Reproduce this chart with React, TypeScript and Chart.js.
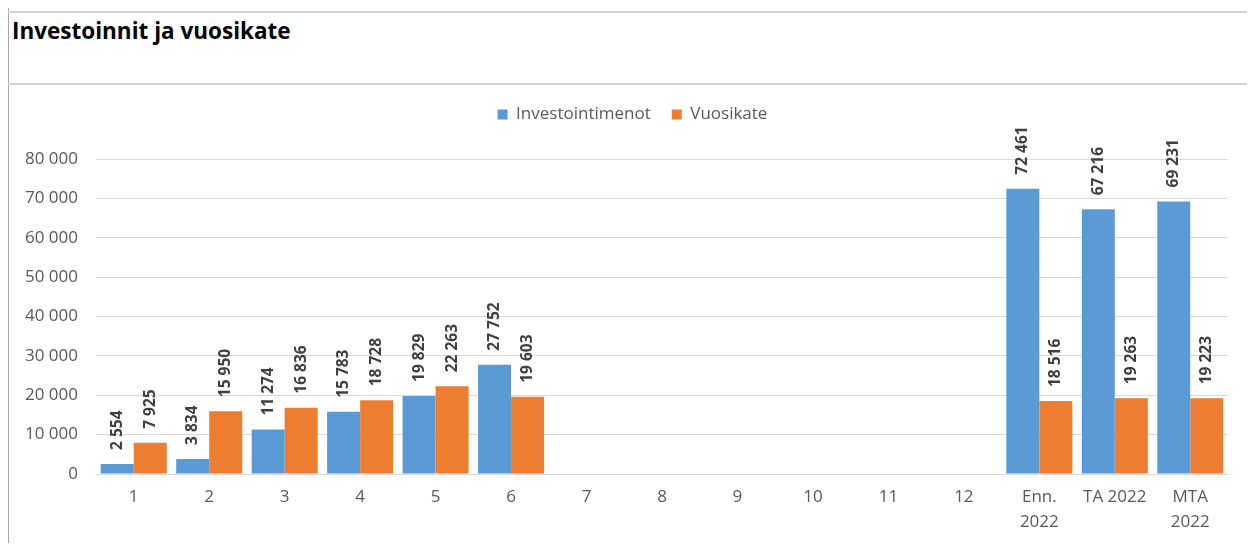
import React, { useEffect, useRef } from "react";
import { Chart, registerables } from "chart.js";

Chart.register(...registerables);

const categories: (string | string[])[] = ["1", "2", "3", "4", "5", "6", "7", "8", "9", "10", "11", "12", ["Enn.", "2022"], "TA 2022", ["MTA", "2022"]];
const investointimenot: (number | null)[] = [2554, 3834, 11274, 15783, 19829, 27752, null, null, null, null, null, null, 72461, 67216, 69231];
const vuosikate: (number | null)[] = [7925, 15950, 16836, 18728, 22263, 19603, null, null, null, null, null, null, 18516, 19263, 19223];
const seriesNames = ["Investointimenot", "Vuosikate"];
const yTicks = [0, 10000, 20000, 30000, 40000, 50000, 60000, 70000, 80000];

const FONT = "'Open Sans', 'Noto Sans', sans-serif";

function fmt(v: number): string {
  return String(Math.round(v)).replace(/\B(?=(\d{3})+(?!\d))/g, " ");
}

const labelPlugin = {
  id: "barLabels",
  afterDatasetsDraw(chart: any) {
    const ctx = chart.ctx;
    chart.data.datasets.forEach((ds: any, di: number) => {
      const meta = chart.getDatasetMeta(di);
      meta.data.forEach((el: any, i: number) => {
        const v = ds.data[i];
        if (v == null) return;
        ctx.save();
        ctx.translate(el.x, el.y - 14);
        ctx.rotate(-Math.PI / 2);
        ctx.font = `bold 15.5px ${FONT}`;
        ctx.fillStyle = "#404040";
        ctx.textAlign = "left";
        ctx.textBaseline = "middle";
        ctx.fillText(fmt(v), 0, 0);
        ctx.restore();
      });
    });
  },
};

const legendFitPlugin = {
  id: "legendFit",
  beforeInit(chart: any) {
    const orig = chart.legend.fit;
    chart.legend.fit = function () {
      orig.bind(this)();
      this.height = 74;
    };
  },
  afterLayout(chart: any) {
    if (chart.legend) {
      chart.legend.left += 14;
      chart.legend.right += 14;
    }
  },
};

export default function App() {
  const ref = useRef<HTMLCanvasElement>(null);
  useEffect(() => {
    if (!ref.current) return;
    const chart = new Chart(ref.current, {
      type: "bar",
      data: {
        labels: categories,
        datasets: [
          { label: seriesNames[0], data: investointimenot, backgroundColor: "#5B9BD5", categoryPercentage: 0.875, barPercentage: 1 },
          { label: seriesNames[1], data: vuosikate, backgroundColor: "#ED7D31", categoryPercentage: 0.875, barPercentage: 1 },
        ],
      },
      options: {
        animation: false,
        responsive: false,
        maintainAspectRatio: false,
        layout: { padding: { left: 0, right: 24, top: 0, bottom: 0 } },
        plugins: {
          legend: {
            display: true,
            position: "top",
            align: "center",
            labels: {
              boxWidth: 10,
              boxHeight: 10,
              padding: 21,
              color: "#595959",
              font: { family: FONT, size: 17 },
            },
          },
          tooltip: { enabled: false },
          title: { display: false },
        },
        scales: {
          x: {
            grid: { display: false, drawTicks: false },
            border: { display: true, color: "#d9d9d9", width: 1 },
            ticks: { color: "#595959", font: { family: FONT, size: 17, lineHeight: 1.5 }, padding: 10, maxRotation: 0, autoSkip: false },
            afterFit(s: any) { s.height = 74; },
          },
          y: {
            min: 0,
            max: 80000,
            afterBuildTicks(s: any) { s.ticks = yTicks.map((v) => ({ value: v })); },
            grid: { color: "#d9d9d9", drawTicks: false },
            border: { display: false },
            ticks: {
              color: "#595959",
              font: { family: FONT, size: 17 },
              padding: 18,
              callback: (v: any) => fmt(Number(v)),
            },
            afterFit(s: any) { s.width = 87; },
          },
        },
      },
      plugins: [labelPlugin, legendFitPlugin],
    });
    return () => chart.destroy();
  }, []);

  return (
    <div style={{ position: "relative", margin: -8, width: 1255, height: 551, background: "#fff", overflow: "hidden" }}>
      <div style={{ position: "absolute", left: 7, top: 0, width: 2, height: 551, background: "#a6a6a6" }} />
      <div style={{ position: "absolute", left: 0, top: 11, width: 1255, height: 2, background: "#d4d4d4" }} />
      <div style={{ position: "absolute", left: 12, top: 15, fontFamily: FONT, fontWeight: "bold", fontSize: 22.5, color: "#000", whiteSpace: "nowrap" }}>
        Investoinnit ja vuosikate
      </div>
      <div style={{ position: "absolute", left: 7, top: 83, width: 1245, height: 465, boxSizing: "border-box", borderTop: "2px solid #d4d4d4", borderRight: "2px solid #d9d9d9", borderBottom: "2px solid #d9d9d9" }} />
      <canvas ref={ref} width={1243} height={463} style={{ position: "absolute", left: 9, top: 85, width: 1243, height: 463 }} />
    </div>
  );
}
